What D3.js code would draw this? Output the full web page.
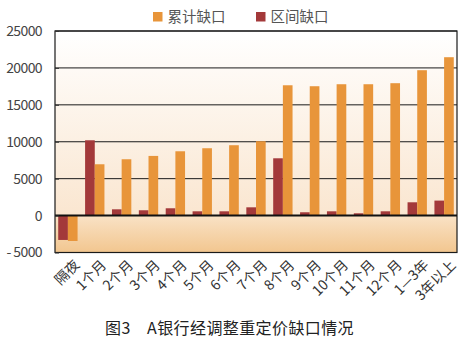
<!DOCTYPE html>
<html><head><meta charset="utf-8">
<script src="https://cdn.jsdelivr.net/npm/d3@7"></script>
<style>
html,body{margin:0;padding:0;background:#fff;}
text{font-family:"Noto Sans CJK SC","Noto Sans",sans-serif;}
</style></head>
<body><svg id="c" width="467" height="355"></svg>
<script>
const categories = ["隔夜","1个月","2个月","3个月","4个月","5个月","6个月","7个月","8个月","9个月","10个月","11个月","12个月","1—3年","3年以上"];
const cumulativeGap = [-3440,6950,7630,8080,8710,9120,9530,10070,17650,17520,17790,17790,17930,19690,21450];
const intervalGap = [-3300,10200,850,720,990,580,580,1120,7760,450,580,310,580,1800,2030];
const yTicks = [-5000,0,5000,10000,15000,20000,25000];
const yTickLabels = ["- 5000","0","5000","10000","15000","20000","25000"];
const seriesNames = ["累计缺口","区间缺口"];
const colors = {cum:"#e8953a", int:"#a3393a"};

const svg = d3.select("#c");
const L=55, R=457, T=31, B=252.5;
const y = d3.scaleLinear().domain([-5000,25000]).range([B,T]);
const x = d3.scaleBand().domain(categories).range([L,R]).paddingInner(0.28).paddingOuter(0.12);
const x2 = d3.scaleBand().domain(["int","cum"]).range([0,x.bandwidth()]);

const defs = svg.append("defs");
const g1 = defs.append("linearGradient").attr("id","gTop").attr("x1",0).attr("y1",0).attr("x2",0).attr("y2",1);
g1.append("stop").attr("offset","0%").attr("stop-color","#ffffff");
g1.append("stop").attr("offset","100%").attr("stop-color","#fae6d0");
const g2 = defs.append("linearGradient").attr("id","gBot").attr("x1",0).attr("y1",0).attr("x2",0).attr("y2",1);
g2.append("stop").attr("offset","0%").attr("stop-color","#f9e2c6");
g2.append("stop").attr("offset","100%").attr("stop-color","#f2c68f");

svg.append("rect").attr("x",L).attr("y",T).attr("width",R-L).attr("height",y(0)-T).attr("fill","url(#gTop)");
svg.append("rect").attr("x",L).attr("y",y(0)).attr("width",R-L).attr("height",B-y(0)).attr("fill","url(#gBot)");

// gridlines
svg.append("g").selectAll("line").data(yTicks.filter(d=>d!==0 && d!==-5000)).join("line")
  .attr("x1",L).attr("x2",R).attr("y1",d=>y(d)).attr("y2",d=>y(d))
  .attr("stroke","#1a1a1a").attr("stroke-width",1);

// bars
const gb = svg.append("g");
categories.forEach((c,i)=>{
  const v1=intervalGap[i], v2=cumulativeGap[i];
  gb.append("rect").attr("x",x(c)+x2("int")).attr("width",x2.bandwidth())
    .attr("y",y(Math.max(0,v1))).attr("height",Math.abs(y(v1)-y(0))).attr("fill",colors.int);
  gb.append("rect").attr("x",x(c)+x2("cum")).attr("width",x2.bandwidth())
    .attr("y",y(Math.max(0,v2))).attr("height",Math.abs(y(v2)-y(0))).attr("fill",colors.cum);
});

// frame
svg.append("rect").attr("x",L).attr("y",T).attr("width",R-L).attr("height",B-T)
  .attr("fill","none").attr("stroke","#1a1a1a").attr("stroke-width",1.2);
svg.append("line").attr("x1",L).attr("x2",R).attr("y1",y(0)).attr("y2",y(0))
  .attr("stroke","#111").attr("stroke-width",2);

// y axis
const yAxis = d3.axisLeft(y).tickValues(yTicks).tickSize(-4).tickPadding(13)
  .tickFormat((d,i)=>yTickLabels[yTicks.indexOf(d)]);
const ya = svg.append("g").attr("transform",`translate(${L},0)`).call(yAxis);
ya.select(".domain").remove();
ya.selectAll(".tick line").attr("stroke","#333");
ya.selectAll("text").attr("font-size",14).attr("fill","#444").attr("letter-spacing","-0.6px")
  .attr("font-family","Liberation Sans, sans-serif");

// x labels
svg.append("g").selectAll("text").data(categories).join("text")
  .attr("transform",d=>`translate(${x(d)+x.bandwidth()/2+9},${B+10}) rotate(-45)`)
  .attr("text-anchor","end").attr("dy","0.35em").attr("font-size",14).attr("fill","#333")
  .text(d=>d);

// legend
const lg = svg.append("g");
[[153,seriesNames[0],colors.cum],[256,seriesNames[1],colors.int]].forEach(([lx,t,c])=>{
  lg.append("rect").attr("x",lx).attr("y",12).attr("width",9.5).attr("height",9.5).attr("fill",c);
  lg.append("text").attr("x",lx+14.5).attr("y",17).attr("dy","0.36em").attr("font-size",14.5).attr("fill","#555").text(t);
});

// caption
svg.append("text").attr("x",105).attr("y",328).attr("dy","0.36em").attr("font-size",16).attr("fill","#222")
  .attr("letter-spacing","0.4px")
  .text("图3\u2003A银行经调整重定价缺口情况");
</script></body></html>
